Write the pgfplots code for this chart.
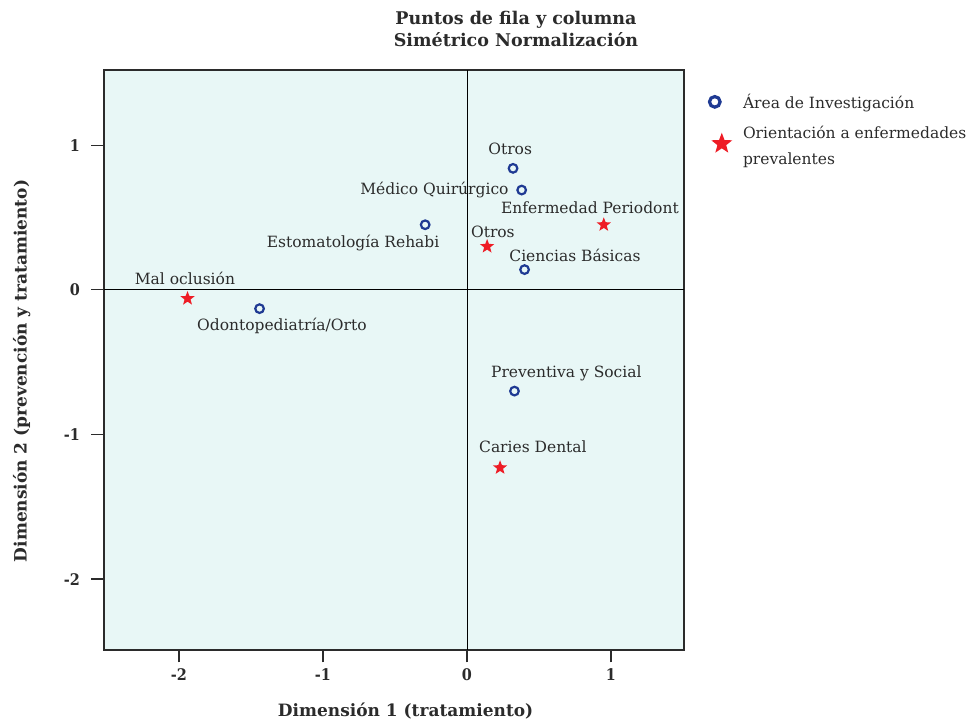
\documentclass[border=0pt]{standalone}
\usepackage{fontspec}
\setmainfont{DejaVu Serif}
\newfontfamily\tickfont{DejaVu Serif Condensed}
\usepackage{pgfplots}
\pgfplotsset{compat=1.18}
\definecolor{bgc}{HTML}{E8F7F6}
\definecolor{txt}{HTML}{2B2B2B}
\definecolor{ptblue}{HTML}{1F3A93}
\definecolor{ptred}{HTML}{EE1C25}
\pgfdeclareplotmark{fstar}{%
  \pgfpathmoveto{\pgfpointpolar{90}{\pgfplotmarksize}}%
  \pgfpathlineto{\pgfpointpolar{126}{0.42\pgfplotmarksize}}%
  \pgfpathlineto{\pgfpointpolar{162}{\pgfplotmarksize}}%
  \pgfpathlineto{\pgfpointpolar{198}{0.42\pgfplotmarksize}}%
  \pgfpathlineto{\pgfpointpolar{234}{\pgfplotmarksize}}%
  \pgfpathlineto{\pgfpointpolar{270}{0.42\pgfplotmarksize}}%
  \pgfpathlineto{\pgfpointpolar{306}{\pgfplotmarksize}}%
  \pgfpathlineto{\pgfpointpolar{342}{0.42\pgfplotmarksize}}%
  \pgfpathlineto{\pgfpointpolar{18}{\pgfplotmarksize}}%
  \pgfpathlineto{\pgfpointpolar{54}{0.42\pgfplotmarksize}}%
  \pgfpathclose\pgfusepathqfill}
\begin{document}
\begin{tikzpicture}[x=1pt,y=1pt]
\path (-104,-72) rectangle (876,650);
\begin{axis}[
  at={(0,0)}, anchor=south west,
  scale only axis, width=580pt, height=580pt,
  xmin=-2.52, xmax=1.507, ymin=-2.49, ymax=1.52,
  axis background/.style={fill=bgc},
  axis line style={txt, line width=1.1pt},
  xtick={-2,-1,0,1}, ytick={-2,-1,0,1},
  tick align=outside, major tick length=12.5pt,
  tick style={txt, line width=1.3pt},
  xtick pos=bottom, ytick pos=left,
  /pgf/number format/assume math mode=true,
  ticklabel style={font=\tickfont\bfseries\fontsize{16}{16}\selectfont, text=txt},
  xticklabel style={yshift=-3pt},
  yticklabel style={xshift=-8pt},
  xlabel={Dimensión 1 (tratamiento)},
  ylabel={Dimensión 2 (prevención y tratamiento)},
  label style={font=\bfseries\fontsize{17}{18}\selectfont, text=txt},
  xlabel style={at={(axis description cs:0.52,0)}, anchor=north, yshift=-49pt},
  ylabel style={at={(axis description cs:0,0.481)}, anchor=south, yshift=70pt},
  legend style={at={(1.03,0.966)}, anchor=north west, draw=none, fill=none,
    font=\fontsize{15.5}{23}\selectfont, text=txt, cells={anchor=west, align=left},
    row sep=12pt, /tikz/every odd column/.append style={column sep=8pt}},
  legend cell align=left,
  clip=false,
]
\addplot[only marks, mark=o, mark size=4.3pt, mark options={ptblue, line width=2.2pt},
  legend image code/.code={\draw[ptblue, line width=3.2pt] (10pt,0pt) circle (5.3pt);\path (0pt,0pt) (28pt,0pt);}]
  coordinates {(0.32,0.84) (0.38,0.69) (-0.29,0.45) (0.40,0.14) (-1.44,-0.13) (0.33,-0.70)};
\addlegendentry{Área de Investigación}
\addplot[only marks, mark=fstar, mark size=7.5pt, mark options={fill=ptred, draw=none},
  legend image code/.code={\path plot[only marks, mark=fstar, mark size=11pt, mark options={fill=ptred, draw=none}] coordinates {(17pt,2pt)};\path (0pt,0pt) (28pt,0pt);}]
  coordinates {(0.95,0.45) (0.14,0.30) (-1.94,-0.06) (0.23,-1.23)};
\addlegendentry{Orientación a enfermedades\\[3pt]prevalentes}
\addplot[black, line width=0.8pt, forget plot] coordinates {(-2.52,0) (1.507,0)};
\addplot[black, line width=0.8pt, forget plot] coordinates {(0,-2.49) (0,1.52)};
\begin{scope}[every node/.style={font=\fontsize{15.5}{15.5}\selectfont, text=txt, inner sep=0pt}]
\node at (axis cs:0.30,0.975) {Otros};
\node[anchor=east] at (axis cs:0.29,0.69) {Médico Quirúrgico};
\node[anchor=east] at (axis cs:-0.19,0.325) {Estomatología Rehabi};
\node at (axis cs:0.75,0.235) {Ciencias Básicas};
\node at (axis cs:-1.285,-0.25) {Odontopediatría/Orto};
\node at (axis cs:0.69,-0.574) {Preventiva y Social};
\node at (axis cs:0.854,0.567) {Enfermedad Periodont};
\node at (axis cs:0.18,0.40) {Otros};
\node at (axis cs:-1.958,0.076) {Mal oclusión};
\node at (axis cs:0.458,-1.085) {Caries Dental};
\end{scope}
\end{axis}
\node[font=\bfseries\fontsize{17.5}{22}\selectfont, text=txt, align=center] at (412,621) {Puntos de fila y columna\\Simétrico Normalización};
\end{tikzpicture}
\end{document}
